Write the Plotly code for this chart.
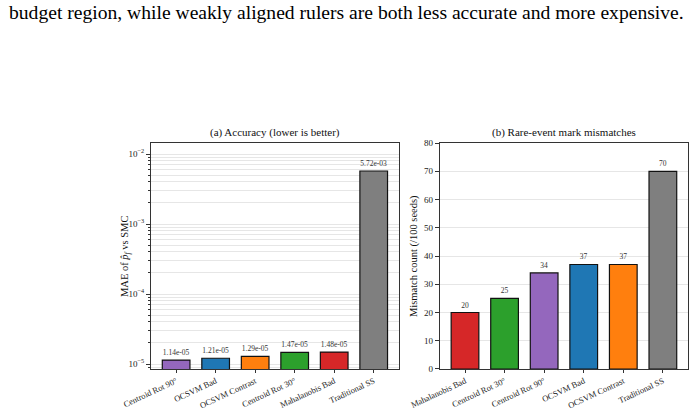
import plotly.graph_objects as go

# Panel (a): accuracy
acc_labels = ["Centroid Rot 90°", "OCSVM Bad", "OCSVM Contrast", "Centroid Rot 30°", "Mahalanobis Bad", "Traditional SS"]
acc_values = [1.14e-05, 1.21e-05, 1.29e-05, 1.47e-05, 1.48e-05, 5.72e-03]
acc_text = ["1.14e-05", "1.21e-05", "1.29e-05", "1.47e-05", "1.48e-05", "5.72e-03"]
acc_colors = ["#9467bd", "#1f77b4", "#ff7f0e", "#2ca02c", "#d62728", "#7f7f7f"]

# Panel (b): mismatches
mis_labels = ["Mahalanobis Bad", "Centroid Rot 30°", "Centroid Rot 90°", "OCSVM Bad", "OCSVM Contrast", "Traditional SS"]
mis_values = [20, 25, 34, 37, 37, 70]
mis_colors = ["#d62728", "#2ca02c", "#9467bd", "#1f77b4", "#ff7f0e", "#7f7f7f"]

log_major = [1e-5, 1e-4, 1e-3, 1e-2]
log_major_text = ["10<sup>−5</sup>", "10<sup>−4</sup>", "10<sup>−3</sup>", "10<sup>−2</sup>"]
log_minor = [m * d for d in [1e-6, 1e-5, 1e-4, 1e-3, 1e-2] for m in range(2, 10)]

FONT = "Liberation Serif, Times New Roman, serif"
AXC = "#333333"
GRID = "#e6e6e6"
LBL = dict(family=FONT, size=7.5, color="#333333")

fig = go.Figure()
fig.add_trace(go.Bar(
    x=acc_labels, y=acc_values, marker=dict(color=acc_colors, line=dict(color="#111111", width=1.2)),
    width=0.7, text=acc_text, textposition="outside", cliponaxis=False,
    textfont=LBL, outsidetextfont=LBL, xaxis="x", yaxis="y", showlegend=False))
fig.add_trace(go.Bar(
    x=mis_labels, y=mis_values, marker=dict(color=mis_colors, line=dict(color="#111111", width=1.2)),
    width=0.7, text=[str(v) for v in mis_values], textposition="outside", cliponaxis=False,
    textfont=LBL, outsidetextfont=LBL, xaxis="x2", yaxis="y2", showlegend=False))

common_x = dict(showline=True, linecolor=AXC, linewidth=1, mirror=True, ticks="outside", ticklen=3,
                tickcolor=AXC, tickangle=-25, tickfont=dict(family=FONT, size=8.5, color="#222"),
                range=[-0.635, 5.635], showgrid=False, zeroline=False, automargin=False)
fig.update_layout(
    width=696, height=411, margin=dict(l=0, r=0, t=0, b=0),
    paper_bgcolor="white", plot_bgcolor="white", bargap=0.3,
    font=dict(family=FONT, color="#222"),
    xaxis=dict(domain=[0.217, 0.573], anchor="y", **common_x),
    xaxis2=dict(domain=[0.632, 0.9885], anchor="y2", **common_x),
    yaxis=dict(domain=[0.1022, 0.652], anchor="x", type="log", range=[-5.071, -1.843],
               showline=True, linecolor=AXC, linewidth=1, mirror=True, automargin=False,
               ticks="outside", ticklen=4, tickcolor=AXC,
               tickmode="array", tickvals=log_major, ticktext=log_major_text,
               tickfont=dict(family=FONT, size=9, color="#222"),
               showgrid=True, gridcolor=GRID, gridwidth=0.8, zeroline=False,
               minor=dict(tickmode="array", tickvals=log_minor, ticks="outside", ticklen=2,
                          tickcolor=AXC, showgrid=True, gridcolor=GRID, gridwidth=0.6)),
    yaxis2=dict(domain=[0.1022, 0.652], anchor="x2", range=[0, 80],
                showline=True, linecolor=AXC, linewidth=1, mirror=True, automargin=False,
                ticks="outside", ticklen=4, tickcolor=AXC, dtick=10,
                tickfont=dict(family=FONT, size=9, color="#222"),
                showgrid=True, gridcolor=GRID, gridwidth=0.8, zeroline=False),
    annotations=[
        dict(text="MAE of <i>p̂</i><sub><i>f</i></sub> vs SMC", x=125 / 696, y=1 - 256 / 411,
             xref="paper", yref="paper", showarrow=False, textangle=-90,
             font=dict(family=FONT, size=10.5, color="#111"), xanchor="center", yanchor="middle"),
        dict(text="Mismatch count (/100 seeds)", x=414 / 696, y=1 - 256 / 411,
             xref="paper", yref="paper", showarrow=False, textangle=-90,
             font=dict(family=FONT, size=10.5, color="#111"), xanchor="center", yanchor="middle"),
        dict(text="(a) Accuracy (lower is better)", x=275 / 696, y=1 - 133 / 411, xref="paper", yref="paper",
             showarrow=False, font=dict(family=FONT, size=11, color="#111"), xanchor="center", yanchor="middle"),
        dict(text="(b) Rare-event mark mismatches", x=564 / 696, y=1 - 133 / 411, xref="paper", yref="paper",
             showarrow=False, font=dict(family=FONT, size=11, color="#111"), xanchor="center", yanchor="middle"),
        dict(text="budget region, while weakly aligned rulers are both less accurate and more expensive.",
             x=7 / 696, y=1 - 13 / 411, xref="paper", yref="paper", showarrow=False,
             font=dict(family=FONT, size=19.6, color="#000"), xanchor="left", yanchor="middle"),
    ],
)
fig.write_html("out.html")
